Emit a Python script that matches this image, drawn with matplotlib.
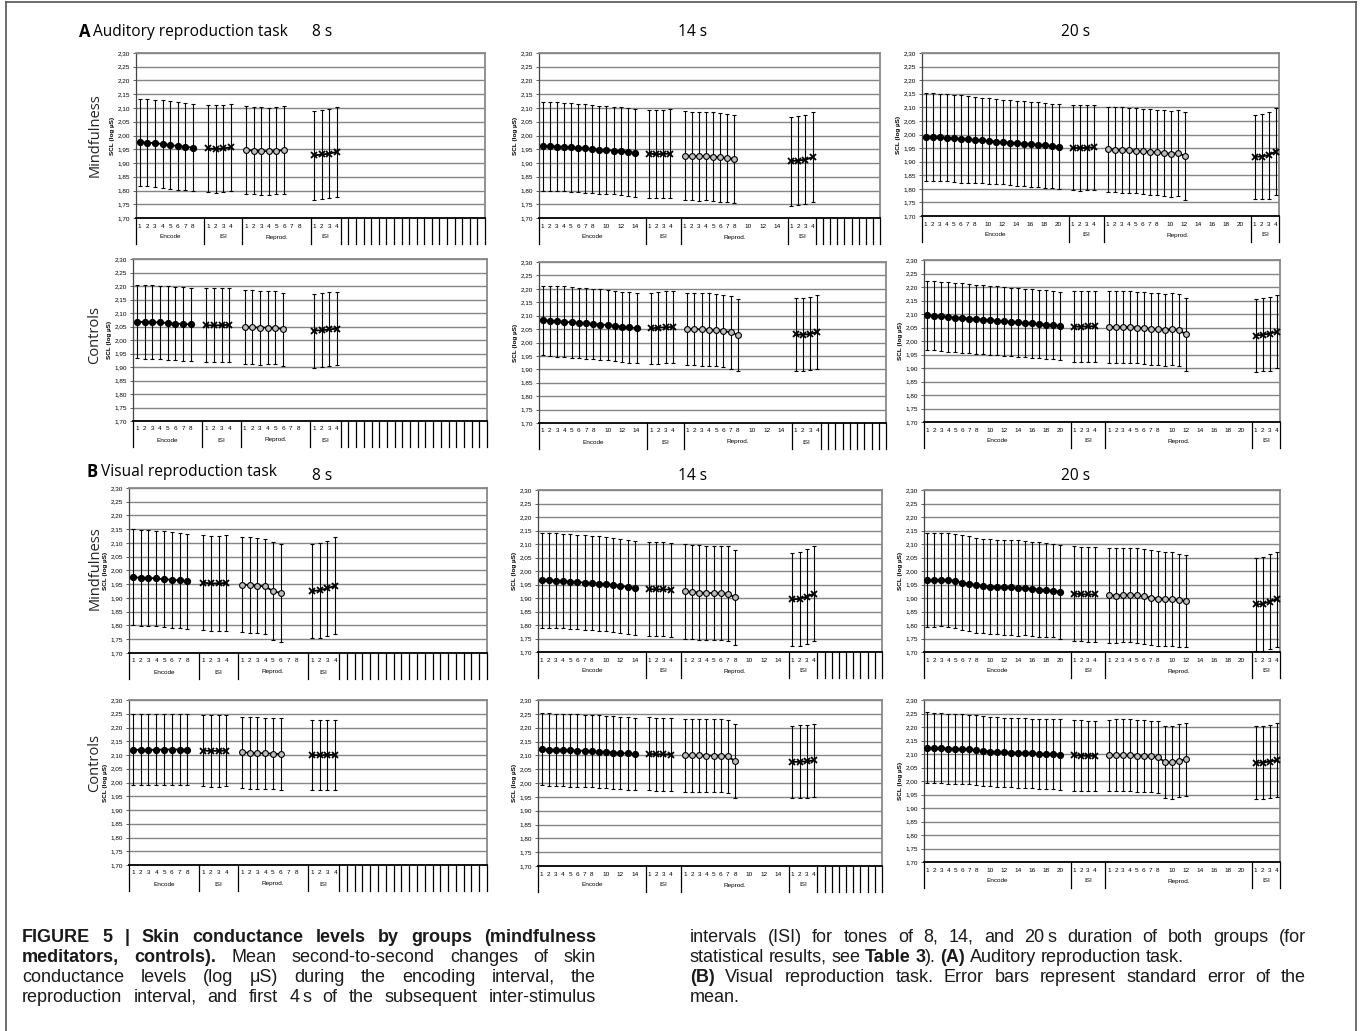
import matplotlib
matplotlib.use("Agg")
import matplotlib.pyplot as plt
import matplotlib.transforms as mtransforms
from matplotlib.lines import Line2D
import numpy as np

# ---- data: mean SCL (log uS) and standard error ----
# A: auditory task, mindfulness / controls, 8, 14, 20 s
a_mind_8 = dict(
    enc=[1.975, 1.974, 1.972, 1.969, 1.965, 1.962, 1.959, 1.956],
    enc_se=[0.159, 0.158, 0.158, 0.159, 0.159, 0.159, 0.158, 0.158],
    isi=[1.953, 1.951, 1.953, 1.957], isi_se=[0.158, 0.159, 0.158, 0.159],
    rep=[1.947, 1.945, 1.944, 1.942, 1.944, 1.947],
    rep_se=[0.159, 0.159, 0.159, 0.159, 0.158, 0.159],
    isi2=[1.928, 1.931, 1.934, 1.941], isi2_se=[0.161, 0.162, 0.163, 0.163])
a_ctrl_8 = dict(
    enc=[2.067, 2.067, 2.066, 2.065, 2.063, 2.061, 2.059, 2.058],
    enc_se=[0.135, 0.136, 0.136, 0.136, 0.136, 0.136, 0.136, 0.136],
    isi=[2.055, 2.054, 2.055, 2.056], isi_se=[0.137, 0.137, 0.137, 0.137],
    rep=[2.048, 2.047, 2.046, 2.046, 2.045, 2.040],
    rep_se=[0.137, 0.137, 0.137, 0.136, 0.135, 0.135],
    isi2=[2.035, 2.036, 2.039, 2.042], isi2_se=[0.137, 0.137, 0.137, 0.136])
a_mind_14 = dict(
    enc=[1.961, 1.961, 1.960, 1.959, 1.957, 1.955, 1.953, 1.951, 1.949, 1.947, 1.945, 1.943, 1.940, 1.937],
    enc_se=[0.161, 0.161, 0.161, 0.161, 0.161, 0.161, 0.161, 0.161, 0.160, 0.160, 0.159, 0.159, 0.159, 0.160],
    isi=[1.934, 1.932, 1.933, 1.934], isi_se=[0.160, 0.161, 0.161, 0.162],
    rep=[1.927, 1.926, 1.925, 1.925, 1.923, 1.921, 1.918, 1.915],
    rep_se=[0.161, 0.161, 0.162, 0.161, 0.161, 0.161, 0.161, 0.160],
    isi2=[1.907, 1.909, 1.912, 1.921], isi2_se=[0.162, 0.162, 0.162, 0.164])
a_ctrl_14 = dict(
    enc=[2.082, 2.081, 2.079, 2.077, 2.075, 2.073, 2.071, 2.069, 2.067, 2.065, 2.062, 2.059, 2.056, 2.054],
    enc_se=[0.130, 0.131, 0.132, 0.132, 0.131, 0.131, 0.131, 0.131, 0.131, 0.131, 0.131, 0.131, 0.131, 0.132],
    isi=[2.053, 2.055, 2.057, 2.058], isi_se=[0.133, 0.134, 0.134, 0.134],
    rep=[2.051, 2.050, 2.049, 2.048, 2.046, 2.043, 2.038, 2.028],
    rep_se=[0.135, 0.135, 0.135, 0.135, 0.135, 0.135, 0.135, 0.134],
    isi2=[2.030, 2.029, 2.032, 2.039], isi2_se=[0.136, 0.137, 0.136, 0.138])
a_mind_20 = dict(
    enc=[1.991, 1.990, 1.989, 1.988, 1.986, 1.984, 1.982, 1.980, 1.978, 1.976,
         1.974, 1.972, 1.970, 1.968, 1.966, 1.964, 1.962, 1.960, 1.958, 1.955],
    enc_se=[0.161, 0.161, 0.161, 0.161, 0.161, 0.161, 0.160, 0.159, 0.158, 0.157,
            0.156, 0.156, 0.156, 0.156, 0.156, 0.156, 0.156, 0.156, 0.156, 0.157],
    isi=[1.951, 1.950, 1.951, 1.953], isi_se=[0.156, 0.157, 0.157, 0.157],
    rep=[1.946, 1.944, 1.943, 1.942, 1.940, 1.938, 1.936, 1.934, 1.932, 1.929, 1.931, 1.922],
    rep_se=[0.157, 0.157, 0.157, 0.157, 0.157, 0.157, 0.157, 0.158, 0.158, 0.159, 0.158, 0.162],
    isi2=[1.918, 1.919, 1.924, 1.937], isi2_se=[0.155, 0.157, 0.160, 0.161])
a_ctrl_20 = dict(
    enc=[2.095, 2.093, 2.091, 2.089, 2.087, 2.085, 2.083, 2.081, 2.079, 2.077,
         2.075, 2.073, 2.071, 2.069, 2.067, 2.065, 2.063, 2.061, 2.059, 2.056],
    enc_se=[0.128, 0.128, 0.128, 0.128, 0.128, 0.128, 0.128, 0.128, 0.128, 0.128,
            0.127, 0.127, 0.127, 0.127, 0.127, 0.127, 0.127, 0.127, 0.127, 0.127],
    isi=[2.053, 2.053, 2.054, 2.055], isi_se=[0.131, 0.131, 0.131, 0.131],
    rep=[2.052, 2.052, 2.052, 2.052, 2.050, 2.048, 2.045, 2.043, 2.042, 2.043, 2.041, 2.025],
    rep_se=[0.133, 0.133, 0.133, 0.133, 0.133, 0.133, 0.133, 0.133, 0.133, 0.133, 0.133, 0.135],
    isi2=[2.020, 2.023, 2.027, 2.034], isi2_se=[0.135, 0.135, 0.137, 0.135])

# B: visual task
b_mind_8 = dict(
    enc=[1.975, 1.974, 1.973, 1.971, 1.968, 1.966, 1.964, 1.961],
    enc_se=[0.175, 0.175, 0.174, 0.174, 0.174, 0.174, 0.174, 0.173],
    isi=[1.956, 1.953, 1.953, 1.955], isi_se=[0.174, 0.174, 0.174, 0.174],
    rep=[1.949, 1.947, 1.945, 1.942, 1.925, 1.918],
    rep_se=[0.173, 0.173, 0.174, 0.173, 0.177, 0.179],
    isi2=[1.925, 1.928, 1.935, 1.945], isi2_se=[0.172, 0.173, 0.174, 0.176])
b_ctrl_8 = dict(
    enc=[2.119, 2.119, 2.119, 2.119, 2.120, 2.120, 2.120, 2.120],
    enc_se=[0.129, 0.129, 0.129, 0.129, 0.129, 0.129, 0.129, 0.129],
    isi=[2.116, 2.115, 2.115, 2.116], isi_se=[0.130, 0.130, 0.130, 0.130],
    rep=[2.110, 2.108, 2.107, 2.106, 2.105, 2.103],
    rep_se=[0.130, 0.130, 0.130, 0.130, 0.130, 0.130],
    isi2=[2.100, 2.099, 2.100, 2.101], isi2_se=[0.128, 0.128, 0.128, 0.128])
b_mind_14 = dict(
    enc=[1.965, 1.965, 1.964, 1.963, 1.961, 1.959, 1.957, 1.955, 1.953, 1.951, 1.948, 1.945, 1.941, 1.937],
    enc_se=[0.175, 0.175, 0.175, 0.175, 0.175, 0.175, 0.175, 0.175, 0.175, 0.175, 0.175, 0.175, 0.175, 0.175],
    isi=[1.933, 1.932, 1.932, 1.931], isi_se=[0.174, 0.174, 0.174, 0.174],
    rep=[1.925, 1.922, 1.920, 1.919, 1.918, 1.918, 1.916, 1.902],
    rep_se=[0.175, 0.175, 0.175, 0.175, 0.175, 0.175, 0.175, 0.175],
    isi2=[1.895, 1.897, 1.905, 1.916], isi2_se=[0.172, 0.174, 0.177, 0.177])
b_ctrl_14 = dict(
    enc=[2.122, 2.121, 2.120, 2.119, 2.118, 2.117, 2.116, 2.115, 2.113, 2.112, 2.110, 2.108, 2.107, 2.105],
    enc_se=[0.131, 0.131, 0.131, 0.131, 0.131, 0.131, 0.131, 0.131, 0.131, 0.131, 0.131, 0.131, 0.131, 0.131],
    isi=[2.105, 2.104, 2.104, 2.103], isi_se=[0.132, 0.132, 0.132, 0.132],
    rep=[2.100, 2.100, 2.100, 2.099, 2.099, 2.099, 2.097, 2.078],
    rep_se=[0.132, 0.132, 0.132, 0.132, 0.132, 0.132, 0.132, 0.134],
    isi2=[2.076, 2.077, 2.078, 2.082], isi2_se=[0.130, 0.131, 0.132, 0.131])
b_mind_20 = dict(
    enc=[1.966, 1.966, 1.968, 1.967, 1.963, 1.957, 1.952, 1.948, 1.945, 1.942,
         1.941, 1.939, 1.939, 1.937, 1.936, 1.934, 1.931, 1.929, 1.927, 1.922],
    enc_se=[0.173, 0.174, 0.173, 0.174, 0.173, 0.175, 0.176, 0.176, 0.175, 0.175,
            0.174, 0.175, 0.175, 0.176, 0.174, 0.174, 0.175, 0.174, 0.172, 0.174],
    isi=[1.916, 1.914, 1.913, 1.913], isi_se=[0.175, 0.175, 0.175, 0.175],
    rep=[1.910, 1.909, 1.911, 1.912, 1.910, 1.906, 1.901, 1.898, 1.897, 1.896, 1.891, 1.890],
    rep_se=[0.175, 0.175, 0.175, 0.175, 0.175, 0.175, 0.175, 0.175, 0.174, 0.174, 0.172, 0.171],
    isi2=[1.876, 1.878, 1.887, 1.895], isi2_se=[0.173, 0.173, 0.176, 0.177])
b_ctrl_20 = dict(
    enc=[2.124, 2.122, 2.121, 2.120, 2.119, 2.119, 2.117, 2.114, 2.111, 2.109,
         2.107, 2.106, 2.105, 2.104, 2.103, 2.102, 2.101, 2.100, 2.099, 2.098],
    enc_se=[0.130, 0.130, 0.130, 0.130, 0.130, 0.129, 0.129, 0.129, 0.129, 0.129,
            0.129, 0.129, 0.129, 0.129, 0.129, 0.129, 0.130, 0.130, 0.130, 0.130],
    isi=[2.095, 2.094, 2.093, 2.093], isi_se=[0.131, 0.131, 0.131, 0.131],
    rep=[2.095, 2.096, 2.096, 2.095, 2.094, 2.092, 2.091, 2.089, 2.070, 2.069, 2.075, 2.080],
    rep_se=[0.132, 0.133, 0.134, 0.133, 0.133, 0.133, 0.133, 0.133, 0.133, 0.134, 0.135, 0.135],
    isi2=[2.068, 2.068, 2.072, 2.077], isi2_se=[0.135, 0.135, 0.135, 0.136])

durations = [8, 14, 20]
empty_cats = {8: 19, 14: 9, 20: 0}   # unused boxes at the right end of the category axis
group_names = ["Encode", "ISI", "Reprod.", "ISI"]
y_ticks = [1.70, 1.75, 1.80, 1.85, 1.90, 1.95, 2.00, 2.05, 2.10, 2.15, 2.20, 2.25, 2.30]
row_names = ["Mindfulness", "Controls", "Mindfulness", "Controls"]
# '~' marks a thin space inside a word
captions_left = [
    "**FIGURE 5 | Skin conductance levels by groups (mindfulness",
    "meditators, controls).** Mean second-to-second changes of skin",
    "conductance levels (log \u03bcS) during the encoding interval, the",
    "reproduction interval, and first 4~s of the subsequent inter-stimulus",
]
captions_right = [
    "intervals (ISI) for tones of 8, 14, and 20~s duration of both groups (for",
    "statistical results, see **Table 3**). **(A)** Auditory reproduction task.",
    "**(B)** Visual reproduction task. Error bars represent standard error of the",
    "mean.",
]

W, H = 1360, 1031
AX_FONT = "Liberation Sans"
TITLE_FONT = "Open Sans"
CAP_FONT = "Liberation Sans"

fig = plt.figure(figsize=(W / 100, H / 100), dpi=100)


def add_ax(l, t, r, b):
    return fig.add_axes([l / W, 1 - b / H, (r - l) / W, (b - t) / H])


def draw_panel(ax, d, p):
    n_cat = 2 * d + 11 + empty_cats[d]
    ax.set_xlim(0, n_cat)
    ax.set_ylim(1.70, 2.30)
    ax.set_yticks(y_ticks)
    ax.set_yticklabels([f"{v:.2f}".replace(".", ",") for v in y_ticks],
                       fontsize=4.6, family=AX_FONT)
    ax.tick_params(axis="y", length=2.5, width=0.6, pad=1.5, color="#444444")
    ax.set_xticks([])
    ax.yaxis.grid(True, color="#858585", lw=1.0)
    ax.set_axisbelow(True)
    for s in ["top", "right"]:
        ax.spines[s].set_color("#888888")
        ax.spines[s].set_linewidth(1.3)
    ax.spines["left"].set_color("#444444")
    ax.spines["left"].set_linewidth(0.9)
    ax.spines["bottom"].set_color("black")
    ax.spines["bottom"].set_linewidth(1.3)
    ax.set_ylabel("SCL (log \u00b5S)", fontsize=4.6, fontweight="bold",
                  family=AX_FONT, labelpad=2)

    starts = [0, d + 1, d + 6, 2 * d + 7]
    keys = ["enc", "isi", "rep", "isi2"]
    styles = [dict(marker="o", mfc="black", mec="black", ms=4.2),
              dict(marker="x", mfc="black", mec="black", ms=3.8, mew=1.3),
              dict(marker="o", mfc="#bdbdbd", mec="black", ms=4.2, mew=0.8),
              dict(marker="x", mfc="black", mec="black", ms=3.8, mew=1.3)]
    for st, k, sty in zip(starts, keys, styles):
        m = np.array(p[k])
        x = st + np.arange(len(m)) + 0.5
        ax.errorbar(x, m, yerr=p[k + "_se"], fmt="none", ecolor="black",
                    elinewidth=0.8, capsize=1.3, capthick=0.8, zorder=3)
        ax.plot(x, m, color="black", lw=1.3, zorder=4, **sty)

    # two-level category axis
    hpx = ax.get_position().height * H
    tr = mtransforms.blended_transform_factory(ax.transData, ax.transAxes)
    bounds = [0, d + 1, d + 6, 2 * d + 7, 2 * d + 11] + list(range(2 * d + 12, n_cat + 1))
    for b in bounds:
        ax.plot([b, b], [0, -26 / hpx], transform=tr, clip_on=False,
                color="black", lw=0.9)
    for st in [0, d + 6]:
        for k in range(1, d + 1):
            if k <= 8 or k % 2 == 0:
                ax.text(st + k - 0.5, -8 / hpx, str(k), transform=tr, fontsize=4.6,
                        family=AX_FONT, ha="center", va="center")
    for st in [d + 1, 2 * d + 7]:
        for k in range(1, 5):
            ax.text(st + k - 0.5, -8 / hpx, str(k), transform=tr, fontsize=4.6,
                    family=AX_FONT, ha="center", va="center")
    centers = [(d + 1) / 2, d + 3.5, d + 6 + (d + 1) / 2, 2 * d + 9]
    for c, name in zip(centers, group_names):
        ax.text(c, -19 / hpx, name, transform=tr, fontsize=4.6, family=AX_FONT,
                ha="center", va="center")


# panel boxes in pixels (left, top, right, bottom)
boxes = [
    [(136, 53, 485, 218), (539, 53, 880, 218), (922, 53, 1279, 216)],
    [(133, 259, 487, 421), (539, 262, 886, 423), (924, 260, 1280, 422)],
    [(129, 488, 487, 653), (538, 490, 882, 652), (924, 490, 1280, 652)],
    [(129, 700, 487, 865), (538, 700, 882, 866), (924, 700, 1280, 862)],
]
panels = [
    [a_mind_8, a_mind_14, a_mind_20],
    [a_ctrl_8, a_ctrl_14, a_ctrl_20],
    [b_mind_8, b_mind_14, b_mind_20],
    [b_ctrl_8, b_ctrl_14, b_ctrl_20],
]
for r in range(4):
    for c in range(3):
        ax = add_ax(*boxes[r][c])
        draw_panel(ax, durations[c], panels[r][c])

# row labels
row_y = [135, 335, 568, 763]
for name, y in zip(row_names, row_y):
    fig.text(95 / W, 1 - y / H, name, rotation=90, fontsize=10.5, family=TITLE_FONT,
             ha="center", va="center", color="#222222")

# section titles
for letter, task, y in [("A", "Auditory reproduction task", 32),
                        ("B", "Visual reproduction task", 472)]:
    x0 = 79 if letter == "A" else 87
    fig.text(x0 / W, 1 - y / H, letter, fontsize=12, fontweight="bold",
             family=TITLE_FONT, ha="left", va="center")
    fig.text((x0 + 14) / W, 1 - y / H, task, fontsize=11.2, family=TITLE_FONT,
             ha="left", va="center")
for y in [32, 476]:
    for x, lab in [(322, "8 s"), (693, "14 s"), (1076, "20 s")]:
        fig.text(x / W, 1 - y / H, lab, fontsize=11.2, family=TITLE_FONT,
                 ha="center", va="center")

# frame round the figure
for xs, ys in [([6, 6], [2, H]), ([1356, 1356], [2, H]), ([6, 1356], [2, 2])]:
    fig.add_artist(Line2D([x / W for x in xs], [1 - y / H for y in ys],
                          color="#555555", lw=1.2))

renderer = fig.canvas.get_renderer()


def split_words(lines):
    bold = False
    out = []
    for line in lines:
        words = []
        for w in line.split(" "):
            pieces = []
            for j, part in enumerate(w.split("**")):
                if j > 0:
                    bold = not bold
                for k, sub in enumerate(part.split("~")):
                    if k > 0:
                        pieces.append((None, bold))   # thin space
                    if sub:
                        pieces.append((sub, bold))
            words.append(pieces)
        out.append(words)
    return out


def make_text(txt, b, fs):
    return fig.text(0, 0, txt, fontsize=fs, family=CAP_FONT,
                    fontweight="bold" if b else "normal",
                    ha="left", va="baseline", color="#1a1a1a")


def layout_word(pieces, fs, keep):
    arts, ww = [], 0.0
    for txt, b in pieces:
        if txt is None:
            ww += fs * 1.389 * 0.17
            continue
        t = make_text(txt, b, fs)
        arts.append((t, ww))
        ww += t.get_window_extent(renderer).width
        if not keep:
            t.remove()
    return arts, ww


def natural_width(words, fs):
    ww = sum(layout_word(p, fs, False)[1] for p in words)
    return ww + (len(words) - 1) * fs * 1.389 * 0.25


# caption size: widest line nearly fills its column
left_words = split_words(captions_left)
right_words = split_words(captions_right)
base = 12
widest = max(max(natural_width(w, base) for w in left_words) / 574,
             max(natural_width(w, base) for w in right_words) / 616)
CAP_FS = min(13.0, base * 0.99 / widest)


def caption_block(lines_words, x0, x1, y0, justify, fs, lh=20):
    for i, words in enumerate(lines_words):
        laid = [layout_word(p, fs, True) for p in words]
        widths = [w for _, w in laid]
        space = fs * 1.389 * 0.25
        if justify[i] and len(words) > 1:
            space = (x1 - x0 - sum(widths)) / (len(words) - 1)
        x = x0
        y = y0 + i * lh
        for arts, ww in laid:
            for t, off in arts:
                t.set_position(((x + off) / W, 1 - y / H))
            x += ww + space


caption_block(left_words, 22, 596, 942, [True, True, True, True], CAP_FS)
caption_block(right_words, 690, 1306, 942, [True, False, True, False], CAP_FS)

fig.savefig("out.png", dpi=100)
